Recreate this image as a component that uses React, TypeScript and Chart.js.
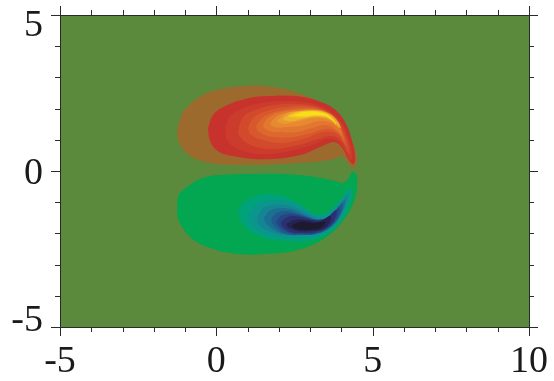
import React, { useEffect, useRef } from 'react';
import { Chart, registerables } from 'chart.js';
Chart.register(...registerables);

// Axis ranges and ticks
const xRange = [-5, 10];
const yRange = [-5, 5];
const xMajorTicks = [-5, 0, 5, 10];
const xTickLabels = ['-5', '0', '5', '10'];
const xMinorTicks = [-4, -3, -2, -1, 1, 2, 3, 4, 6, 7, 8, 9];
const yMajorTicks = [-5, 0, 5];
const yTickLabels = ['-5', '0', '5'];
const yMinorTicks = [-4, -3, -2, -1, 1, 2, 3, 4];

// Positive vortex contour levels (outermost first), [x, y]
const pos1 = [[-1.25,1.25],[-1.15,1.70],[-0.93,2.05],[-0.29,2.50],[0.77,2.72],[1.82,2.69],[2.78,2.44],[3.55,2.05],[4.06,1.54],[4.38,0.90],[4.51,0.35],[4.41,0.10],[4.28,0.16],[4.03,0.45],[3.64,0.35],[2.68,0.26],[1.09,0.19],[-0.19,0.26],[-0.83,0.48],[-1.15,0.83]];
const pos2 = [[-0.26,1.25],[-0.13,1.76],[0.29,2.08],[0.93,2.31],[1.66,2.40],[2.52,2.40],[3.26,2.24],[3.80,1.96],[4.15,1.51],[4.35,0.93],[4.44,0.45],[4.38,0.22],[4.22,0.38],[4.03,0.74],[3.77,0.93],[3.39,0.80],[2.68,0.51],[1.66,0.38],[0.70,0.45],[0,0.67]];
const pos3 = [[0.29,1.28],[0.42,1.73],[0.86,2.02],[1.47,2.18],[2.30,2.24],[3.10,2.15],[3.67,1.89],[4.06,1.47],[4.25,0.96],[4.35,0.48],[4.28,0.35],[4.12,0.64],[3.90,0.93],[3.58,1.03],[3.07,0.83],[2.36,0.64],[1.47,0.54],[0.77,0.67],[0.38,0.93]];
const pos4 = [[0.70,1.31],[0.86,1.73],[1.28,1.96],[1.89,2.12],[2.62,2.15],[3.26,2.05],[3.74,1.79],[4.06,1.35],[4.22,0.87],[4.28,0.54],[4.19,0.61],[4.00,0.96],[3.67,1.12],[3.16,0.99],[2.52,0.80],[1.73,0.71],[1.09,0.83],[0.77,1.09]];
const pos5 = [[1.02,1.38],[1.18,1.70],[1.60,1.92],[2.20,2.05],[2.84,2.08],[3.39,1.96],[3.80,1.67],[4.06,1.22],[4.19,0.77],[4.09,0.87],[3.87,1.19],[3.42,1.25],[2.81,1.03],[2.11,0.90],[1.47,0.99],[1.12,1.15]];
const pos6 = [[1.28,1.41],[1.47,1.70],[1.89,1.89],[2.43,1.99],[3.00,2.02],[3.51,1.89],[3.87,1.60],[4.06,1.15],[4.09,0.93],[3.96,1.15],[3.61,1.35],[3.04,1.22],[2.43,1.09],[1.82,1.09],[1.41,1.22]];
const pos7 = [[1.50,1.47],[1.69,1.73],[2.11,1.89],[2.62,1.96],[3.16,1.96],[3.61,1.79],[3.90,1.47],[4.03,1.12],[3.90,1.28],[3.55,1.47],[3.07,1.38],[2.56,1.25],[2.01,1.25],[1.63,1.31]];
const pos8 = [[1.73,1.54],[1.95,1.76],[2.36,1.89],[2.84,1.92],[3.32,1.89],[3.71,1.70],[3.93,1.35],[3.77,1.51],[3.32,1.60],[2.81,1.47],[2.27,1.41],[1.85,1.41]];
const pos9 = [[1.95,1.60],[2.20,1.83],[2.62,1.92],[3.07,1.96],[3.51,1.89],[3.83,1.67],[3.99,1.38],[3.83,1.51],[3.51,1.67],[3.10,1.70],[2.65,1.60],[2.17,1.51]];
const pos10 = [[2.14,1.67],[2.40,1.86],[2.81,1.92],[3.26,1.92],[3.64,1.79],[3.87,1.57],[3.93,1.38],[3.74,1.60],[3.36,1.73],[2.88,1.70],[2.40,1.60]];
const pos11 = [[2.30,1.76],[2.62,1.89],[3.07,1.92],[3.48,1.86],[3.77,1.63],[3.83,1.47],[3.61,1.70],[3.20,1.76],[2.68,1.70]];
const pos12 = [[2.49,1.79],[2.81,1.89],[3.23,1.89],[3.58,1.79],[3.74,1.60],[3.48,1.76],[3.10,1.79],[2.75,1.76]];
const posColors = ['#9B6A2C','#C7322D','#CC3C2C','#D2492C','#D8582D','#DD682E','#E2782F','#E68930','#EA9A30','#EFB22C','#F4C922','#F7DF1A'];

// Negative vortex contour levels (outermost first)
const neg1 = [[-1.25,-1.15],[-1.21,-0.77],[-0.93,-0.51],[-0.42,-0.22],[0.13,-0.13],[1.09,-0.10],[2.11,-0.10],[3.16,-0.19],[3.80,-0.32],[4.03,-0.38],[4.19,-0.29],[4.35,-0.03],[4.47,-0.10],[4.51,-0.38],[4.44,-0.87],[4.12,-1.51],[3.48,-2.15],[2.62,-2.53],[1.57,-2.66],[0.67,-2.66],[-0.19,-2.47],[-0.83,-2.12],[-1.21,-1.57]];
const neg2 = [[0.70,-1.31],[0.89,-0.99],[1.25,-0.80],[1.66,-0.74],[2.20,-0.83],[2.68,-1.06],[3.10,-1.35],[3.48,-1.35],[3.87,-1.03],[4.15,-0.67],[4.28,-0.54],[4.35,-0.67],[4.25,-1.15],[3.93,-1.70],[3.51,-2.05],[2.88,-2.24],[2.17,-2.24],[1.47,-2.12],[0.96,-1.83]];
const neg3 = [[1.02,-1.47],[1.18,-1.15],[1.53,-0.96],[2.04,-0.93],[2.52,-1.06],[2.94,-1.28],[3.32,-1.44],[3.71,-1.25],[4.03,-0.90],[4.22,-0.67],[4.28,-0.77],[4.15,-1.19],[3.83,-1.70],[3.39,-2.02],[2.78,-2.15],[2.11,-2.15],[1.53,-2.02],[1.15,-1.79]];
const neg4 = [[1.31,-1.51],[1.47,-1.22],[1.79,-1.09],[2.24,-1.09],[2.68,-1.25],[3.07,-1.44],[3.45,-1.54],[3.80,-1.25],[4.09,-0.87],[4.19,-0.80],[4.09,-1.19],[3.77,-1.67],[3.32,-1.96],[2.75,-2.05],[2.14,-2.05],[1.66,-1.92],[1.37,-1.73]];
const neg5 = [[1.53,-1.54],[1.69,-1.28],[2.04,-1.19],[2.46,-1.25],[2.84,-1.41],[3.26,-1.57],[3.64,-1.47],[3.96,-1.09],[4.12,-0.93],[4.03,-1.28],[3.74,-1.70],[3.29,-1.99],[2.72,-2.05],[2.17,-2.02],[1.79,-1.86]];
const neg6 = [[1.76,-1.57],[1.92,-1.35],[2.24,-1.28],[2.62,-1.38],[3.00,-1.51],[3.39,-1.57],[3.77,-1.31],[4.03,-1.03],[3.99,-1.35],[3.74,-1.73],[3.29,-1.99],[2.72,-2.05],[2.24,-2.02],[1.92,-1.83]];
const neg7 = [[1.92,-1.63],[2.11,-1.41],[2.46,-1.38],[2.84,-1.47],[3.26,-1.57],[3.64,-1.44],[3.93,-1.15],[3.90,-1.41],[3.64,-1.76],[3.23,-1.99],[2.68,-2.02],[2.27,-1.96],[2.01,-1.79]];
const neg8 = [[2.07,-1.67],[2.30,-1.47],[2.68,-1.47],[3.10,-1.57],[3.51,-1.51],[3.83,-1.25],[3.80,-1.51],[3.58,-1.79],[3.16,-1.96],[2.68,-1.99],[2.30,-1.92]];
const neg9 = [[2.24,-1.73],[2.49,-1.57],[2.88,-1.57],[3.29,-1.63],[3.64,-1.44],[3.64,-1.63],[3.42,-1.86],[3.04,-1.92],[2.59,-1.92]];
const neg10 = [[2.43,-1.76],[2.72,-1.63],[3.13,-1.67],[3.48,-1.63],[3.32,-1.83],[2.94,-1.89],[2.56,-1.86]];
const negColors = ['#03A651','#00A27A','#0B968D','#148592','#1B7092','#215A8D','#264584','#2A3070','#252150','#1C1A2C'];

const BG = '#5C8A3C';
const AXIS = '#2a2a2a';
const FONT = '38px "Liberation Serif", "Times New Roman", serif';

const posLevels = [pos1, pos2, pos3, pos4, pos5, pos6, pos7, pos8, pos9, pos10, pos11, pos12];
const negLevels = [neg1, neg2, neg3, neg4, neg5, neg6, neg7, neg8, neg9, neg10];

function levelDataset(pts: number[][], color: string, depth: number) {
  const closed = pts.concat([pts[0], pts[1]]);
  return {
    data: closed.map(([x, y]) => ({ x, y })),
    showLine: true,
    fill: 'shape',
    backgroundColor: color,
    borderColor: 'rgba(0,0,0,0)',
    borderWidth: 0,
    pointRadius: 0,
    pointHoverRadius: 0,
    tension: 0.4,
    order: 100 - depth,
  };
}

const framePlugin = {
  id: 'frame',
  beforeDraw(chart: any) {
    const { ctx, chartArea: a } = chart;
    ctx.save();
    ctx.fillStyle = BG;
    ctx.fillRect(a.left, a.top, a.right - a.left, a.bottom - a.top);
    ctx.restore();
  },
  afterDraw(chart: any) {
    const { ctx, chartArea: a, width } = chart;
    const xs = chart.scales.x;
    const ys = chart.scales.y;
    const MAJ = 9, MIN = 5;
    ctx.save();
    ctx.strokeStyle = AXIS;
    ctx.lineWidth = 1;
    ctx.strokeRect(Math.round(a.left) + 0.5, Math.round(a.top) + 0.5, Math.round(a.right - a.left), Math.round(a.bottom - a.top));
    ctx.beginPath();
    const vt = (v: number, len: number) => {
      const px = Math.round(xs.getPixelForValue(v)) + 0.5;
      ctx.moveTo(px, a.bottom); ctx.lineTo(px, a.bottom + len);
      ctx.moveTo(px, a.top); ctx.lineTo(px, a.top - len);
    };
    const ht = (v: number, len: number) => {
      const py = Math.round(ys.getPixelForValue(v)) + 0.5;
      ctx.moveTo(a.left, py); ctx.lineTo(a.left - len, py);
      ctx.moveTo(a.right, py); ctx.lineTo(a.right + len, py);
    };
    xMajorTicks.forEach((v) => vt(v, MAJ));
    xMinorTicks.forEach((v) => vt(v, MIN));
    yMajorTicks.forEach((v) => ht(v, MAJ));
    yMinorTicks.forEach((v) => ht(v, MIN));
    ctx.stroke();

    ctx.fillStyle = '#1a1a1a';
    ctx.font = FONT;
    ctx.textBaseline = 'alphabetic';
    ctx.textAlign = 'center';
    xMajorTicks.forEach((v, i) => {
      const label = xTickLabels[i];
      const w = ctx.measureText(label).width;
      let cx = xs.getPixelForValue(v);
      cx = Math.min(cx, width - 6 - w / 2);
      ctx.fillText(label, cx, a.bottom + 45);
    });
    ctx.textAlign = 'right';
    yMajorTicks.forEach((v, i) => {
      let cy = ys.getPixelForValue(v);
      cy = Math.max(a.top + 8, Math.min(a.bottom - 9, cy));
      ctx.fillText(yTickLabels[i], a.left - 17, cy + 13);
    });
    ctx.restore();
  },
};

export default function App() {
  const ref = useRef<HTMLCanvasElement>(null);
  useEffect(() => {
    if (!ref.current) return;
    const datasets: any[] = [];
    posLevels.forEach((pts, k) => datasets.push(levelDataset(pts, posColors[k], k)));
    negLevels.forEach((pts, k) => datasets.push(levelDataset(pts, negColors[k], k)));
    const chart = new Chart(ref.current, {
      type: 'scatter',
      data: { datasets },
      options: {
        animation: false,
        responsive: false,
        devicePixelRatio: 1,
        layout: { padding: { left: 60, right: 25, top: 15, bottom: 54 } },
        plugins: { legend: { display: false }, tooltip: { enabled: false }, filler: { propagate: false } },
        events: [],
        scales: {
          x: { type: 'linear', min: xRange[0], max: xRange[1], display: false },
          y: { type: 'linear', min: yRange[0], max: yRange[1], display: false },
        },
      },
      plugins: [framePlugin],
    } as any);
    return () => chart.destroy();
  }, []);
  return (
    <div style={{ position: 'fixed', left: 0, top: 0, width: 554, height: 381, background: '#fff' }}>
      <canvas ref={ref} width={554} height={381} style={{ width: 554, height: 381, display: 'block' }} />
    </div>
  );
}
